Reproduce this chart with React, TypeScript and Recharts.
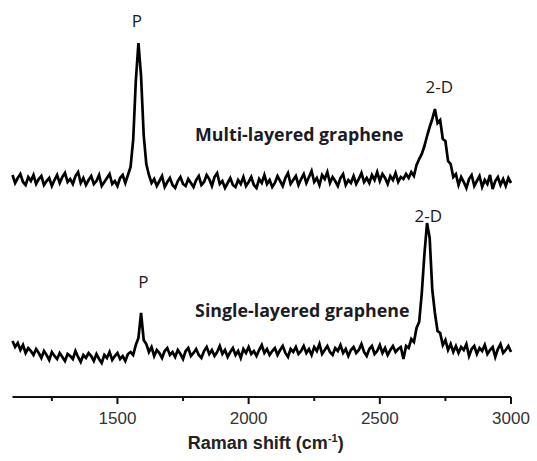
import { LineChart, Line, XAxis, YAxis, ReferenceDot } from "recharts";

// Raman shift (cm-1), one sample every 10 cm-1
const shifts = [
  1100, 1110, 1120, 1130, 1140, 1150, 1160, 1170, 1180, 1190,
  1200, 1210, 1220, 1230, 1240, 1250, 1260, 1270, 1280, 1290,
  1300, 1310, 1320, 1330, 1340, 1350, 1360, 1370, 1380, 1390,
  1400, 1410, 1420, 1430, 1440, 1450, 1460, 1470, 1480, 1490,
  1500, 1510, 1520, 1530, 1540, 1550, 1560, 1570, 1580, 1590,
  1600, 1610, 1620, 1630, 1640, 1650, 1660, 1670, 1680, 1690,
  1700, 1710, 1720, 1730, 1740, 1750, 1760, 1770, 1780, 1790,
  1800, 1810, 1820, 1830, 1840, 1850, 1860, 1870, 1880, 1890,
  1900, 1910, 1920, 1930, 1940, 1950, 1960, 1970, 1980, 1990,
  2000, 2010, 2020, 2030, 2040, 2050, 2060, 2070, 2080, 2090,
  2100, 2110, 2120, 2130, 2140, 2150, 2160, 2170, 2180, 2190,
  2200, 2210, 2220, 2230, 2240, 2250, 2260, 2270, 2280, 2290,
  2300, 2310, 2320, 2330, 2340, 2350, 2360, 2370, 2380, 2390,
  2400, 2410, 2420, 2430, 2440, 2450, 2460, 2470, 2480, 2490,
  2500, 2510, 2520, 2530, 2540, 2550, 2560, 2570, 2580, 2590,
  2600, 2610, 2620, 2630, 2640, 2650, 2660, 2670, 2680, 2690,
  2700, 2710, 2720, 2730, 2740, 2750, 2760, 2770, 2780, 2790,
  2800, 2810, 2820, 2830, 2840, 2850, 2860, 2870, 2880, 2890,
  2900, 2910, 2920, 2930, 2940, 2950, 2960, 2970, 2980, 2990,
  3000,
];

// intensity, arbitrary units (spectra are offset)
const multiLayer = [
  222, 214, 219, 223, 215, 212, 220, 216, 222, 213,
  218, 221, 212, 216, 219, 211, 217, 222, 214, 220,
  224, 215, 218, 213, 221, 225, 214, 219, 212, 217,
  221, 213, 216, 222, 211, 215, 219, 223, 213, 216,
  211, 219, 222, 214, 222, 230, 257, 316, 354, 321,
  262, 233, 222, 214, 218, 211, 216, 221, 210, 215,
  219, 212, 209, 216, 220, 213, 211, 218, 214, 210,
  217, 221, 212, 215, 222, 218, 211, 220, 224, 213,
  216, 209, 214, 219, 212, 210, 217, 213, 220, 211,
  215, 220, 212, 209, 218, 214, 222, 213, 217, 210,
  214, 221, 216, 211, 219, 224, 213, 217, 221, 212,
  218, 223, 214, 220, 226, 215, 219, 212, 222, 218,
  225, 214, 220, 216, 211, 219, 223, 212, 217, 214,
  221, 213, 218, 224, 215, 219, 214, 222, 217, 225,
  216, 223, 219, 213, 221, 217, 224, 215, 220, 218,
  223, 219, 225, 221, 232, 238, 243, 251, 261, 270,
  278, 288, 274, 277, 258, 256, 236, 233, 220, 223,
  212, 220, 215, 209, 218, 222, 211, 216, 221, 210,
  217, 213, 222, 208, 216, 220, 212, 218, 211, 219,
  214,
];

const singleLayer = [
  56, 50, 54, 47, 52, 44, 49, 46, 42, 48,
  44, 39, 46, 42, 37, 45, 41, 38, 44, 40,
  36, 43, 41, 38, 46, 40, 35, 42, 39, 44,
  41, 36, 43, 38, 34, 42, 39, 45, 37, 41,
  44, 38, 41, 36, 43, 45, 42, 52, 59, 84,
  57, 53, 45, 50, 41, 47, 44, 39, 46, 49,
  42, 45, 40, 47, 43, 38, 46, 49, 41, 44,
  48, 42, 39, 46, 50, 43, 47, 41, 45, 51,
  43, 47, 40, 45, 49, 42, 46, 39, 48, 44,
  50, 43, 46, 41, 47, 52, 44, 48, 42, 46,
  49, 42, 47, 51, 44, 40, 48, 45, 50, 43,
  46, 51, 44, 48, 42, 50, 46, 53, 43, 47,
  51, 45, 42, 49, 46, 52, 44, 48, 41, 47,
  50, 44, 47, 53, 45, 41, 48, 51, 43, 46,
  52, 44, 49, 42, 47, 51, 45, 48, 50, 38,
  51, 49, 58, 55, 69, 75, 104, 143, 174, 159,
  107, 84, 66, 64, 52, 57, 47, 53, 45, 51,
  44, 50, 47, 53, 41, 48, 51, 43, 49, 46,
  52, 43, 47, 50, 40, 48, 53, 44, 47, 51,
  45,
];

const majorTicks = [1500, 2000, 2500, 3000];
const allTicks = [1250, 1500, 1750, 2000, 2250, 2500, 2750, 3000];

const data = shifts.map((s, i) => ({
  shift: s,
  multi: multiLayer[i],
  single: singleLayer[i],
}));

const notes = [
  { x: 1574, y: 370, text: "P", anchor: "middle", size: 17, bold: false },
  { x: 2727, y: 304, text: "2-D", anchor: "middle", size: 17, bold: false },
  { x: 1796, y: 256, text: "Multi-layered graphene", anchor: "start", size: 17.8, bold: true },
  { x: 1599, y: 109, text: "P", anchor: "middle", size: 17, bold: false },
  { x: 1796, y: 80, text: "Single-layered graphene", anchor: "start", size: 17.8, bold: true },
  { x: 2685, y: 175, text: "2-D", anchor: "middle", size: 17, bold: false },
];

const labelFont = "'Open Sans', sans-serif";
const axisFont = "'Liberation Sans', Arial, sans-serif";

const Tick = (props: any) => {
  const { x, y, payload } = props;
  const major = majorTicks.includes(payload.value);
  return (
    <g>
      <line x1={x} y1={y} x2={x} y2={y + (major ? 7 : 4)} stroke="#111" strokeWidth={2} />
      {major && (
        <text
          x={x}
          y={y + 27}
          textAnchor="middle"
          fontFamily={axisFont}
          fontSize={17}
          fill="#333"
        >
          {payload.value}
        </text>
      )}
    </g>
  );
};

const AxisTitle = (props: any) => {
  const { viewBox } = props;
  const cx = viewBox.x + viewBox.width / 2 + 4;
  return (
    <text
      x={cx}
      y={viewBox.y + 52}
      textAnchor="middle"
      fontFamily={axisFont}
      fontSize={18}
      fontWeight="bold"
      fill="#222"
    >
      Raman shift (cm
      <tspan fontSize={11} dy={-7}>-1</tspan>
      <tspan dy={7}>)</tspan>
    </text>
  );
};

export default function App() {
  return (
    <div style={{ position: "absolute", left: 0, top: 0, background: "#fff" }}>
      <LineChart
        width={537}
        height={461}
        data={data}
        margin={{ top: 20, right: 26, bottom: 4, left: 12.5 }}
      >
        <XAxis
          dataKey="shift"
          type="number"
          domain={[1100, 3000]}
          ticks={allTicks}
          interval={0}
          height={60}
          tickSize={0}
          tickMargin={0}
          tickLine={false}
          axisLine={{ stroke: "#111", strokeWidth: 2 }}
          tick={<Tick />}
          label={{ content: <AxisTitle /> }}
        />
        <YAxis hide domain={[0, 377]} />
        <Line
          dataKey="multi"
          type="linear"
          stroke="#000"
          strokeWidth={2.7}
          dot={false}
          isAnimationActive={false}
        />
        <Line
          dataKey="single"
          type="linear"
          stroke="#000"
          strokeWidth={2.7}
          dot={false}
          isAnimationActive={false}
        />
        {notes.map((n) => (
          <ReferenceDot
            key={n.text + n.y}
            x={n.x}
            y={n.y}
            r={0}
            shape={(p: any) => (
              <text
                x={p.cx}
                y={p.cy}
                textAnchor={n.anchor}
                fontFamily={labelFont}
                fontSize={n.size}
                fontWeight={n.bold ? "bold" : "normal"}
                fill="#1b1b24"
              >
                {n.text}
              </text>
            )}
          />
        ))}
      </LineChart>
    </div>
  );
}
